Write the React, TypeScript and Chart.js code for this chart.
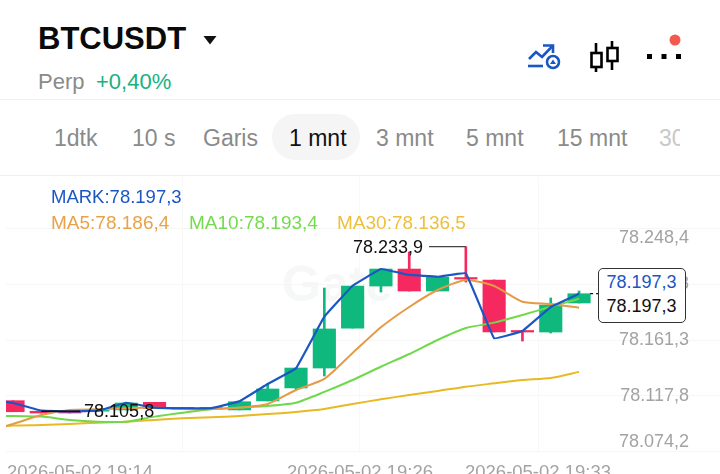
import React, { useEffect, useRef } from "react";
import { Chart, registerables } from "chart.js";

Chart.register(...registerables);

const FONT = '"Liberation Sans", Arial, sans-serif';
const UP = "#0fb97e";
const DOWN = "#f5295f";
const BLUE = "#1a56c4";

// Candles: the array index is the x value (index 0 lies off-screen to the left)
const opens = [null, 78114.1, 78105.9, 78105.9, 78105.9, 78106.9, 78112.8, 78108.8, 78107.8, 78106.9, 78113.9, 78124.0, 78139.5, 78170.6, 78203.3, 78216.5, 78199.4, 78209.9, 78208.0, 78168.7, 78167.5, 78190.1];
const highs = [null, 78114.1, 78105.9, 78105.9, 78106.5, 78112.3, 78112.8, 78108.8, 78108.8, 78113.3, 78127.1, 78139.5, 78201.7, 78203.3, 78216.5, 78229.7, 78210.3, 78233.9, 78208.0, 78168.7, 78194.0, 78199.4];
const lows = [null, 78105.5, 78104.5, 78104.5, 78105.9, 78106.9, 78108.1, 78107.5, 78107.8, 78106.9, 78113.9, 78122.4, 78133.3, 78170.6, 78198.6, 78199.4, 78199.4, 78206.4, 78167.5, 78160.5, 78166.7, 78190.1];
const closes = [null, 78105.5, 78104.5, 78104.5, 78106.5, 78112.3, 78108.1, 78107.5, 78108.8, 78113.3, 78123.2, 78139.5, 78169.9, 78203.3, 78216.5, 78199.4, 78210.3, 78208.7, 78167.5, 78167.5, 78188.5, 78197.3];

const mark = [78115.4, 78112.3, 78106.3, 78105.7, 78106.3, 78112.5, 78108.7, 78108.2, 78108.2, 78113.6, 78127.1, 78139.3, 78179.4, 78203.5, 78216.5, 78211.9, 78210.5, 78213.2, 78162.6, 78168.3, 78187.0, 78197.3];
const ma5 = [78089.8, 78096.0, 78103.0, 78106.9, 78107.4, 78108.2, 78108.8, 78107.6, 78107.6, 78108.7, 78111.5, 78122.4, 78131.0, 78151.2, 78171.2, 78187.0, 78200.2, 78208.0, 78203.3, 78191.1, 78189.3, 78186.4];
const ma10 = [78102.2, 78102.2, 78101.7, 78099.1, 78097.8, 78097.8, 78101.7, 78104.8, 78107.4, 78108.7, 78110.0, 78112.5, 78120.9, 78130.2, 78140.5, 78150.4, 78161.3, 78170.6, 78174.8, 78180.7, 78187.2, 78193.4];
const ma30 = [78092.9, 78094.7, 78095.2, 78096.0, 78097.0, 78097.8, 78099.1, 78100.4, 78101.2, 78102.2, 78103.7, 78105.3, 78107.6, 78111.5, 78115.2, 78118.5, 78121.6, 78125.0, 78127.6, 78130.2, 78131.7, 78136.5];

const yTicks = [78074.2, 78117.8, 78161.3, 78204.8, 78248.4];
const xTickSpots = [3.37, 7.0, 13.26, 19.55];
const xTickLabels = ["2026-05-02 19:14", "", "2026-05-02 19:26", "2026-05-02 19:33"];

const highLabel = "78.233,9";
const lowLabel = "78.105,8";
const lastLabel = "78.197,3";
const highValue = 78233.9;
const lowValue = 78105.8;
const lastValue = 78197.3;
const highLeaderFrom = 15.7;
const highIndex = 17;
const lowIndex = 2;
const lowLeaderTo = 3.37;
const lastLeader = [21.39, 21.67];

const tabs: [string, number, boolean][] = [
  ["1dtk", 54, false], ["10 s", 132, false], ["Garis", 203, false], ["1 mnt", 289, true],
  ["3 mnt", 376, false], ["5 mnt", 466, false], ["15 mnt", 557, false],
];
const legendTop: [string, string, number][] = [["MARK:78.197,3", BLUE, 51]];
const legendRow: [string, string, number][] = [
  ["MA5:78.186,4", "#e8a24a", 51],
  ["MA10:78.193,4", "#74db4e", 189],
  ["MA30:78.136,5", "#eebf3a", 337],
];

const fmt = (v: number) => {
  const s = v.toFixed(1);
  return s.slice(0, 2) + "." + s.slice(2).replace(".", ",");
};
const pts = (arr: (number | null)[]) => arr.map((y, x) => ({ x, y }));
const isUp = (i: number) => (closes[i] as number) >= (opens[i] as number);

const annotate = {
  id: "annotate",
  afterDatasetsDraw(chart: any) {
    const { ctx, scales } = chart;
    ctx.save();
    ctx.font = `18px ${FONT}`;
    ctx.fillStyle = "#111";
    ctx.textBaseline = "middle";
    ctx.textAlign = "right";
    ctx.fillText(highLabel, scales.x.getPixelForValue(highLeaderFrom) - 6, scales.y.getPixelForValue(highValue) + 1);
    ctx.textAlign = "left";
    ctx.fillText(lowLabel, scales.x.getPixelForValue(lowLeaderTo) + 4, scales.y.getPixelForValue(lowValue) + 1);
    ctx.restore();
  },
};

const abs = (left: number, top: number, extra: React.CSSProperties = {}): React.CSSProperties => ({
  position: "absolute", left, top, whiteSpace: "nowrap", ...extra,
});

export default function App() {
  const ref = useRef<HTMLCanvasElement>(null);
  useEffect(() => {
    const line = (data: number[], color: string, order: number, tension = 0.2, width = 2) => ({
      type: "line" as const,
      data: pts(data),
      borderColor: color,
      borderWidth: width,
      pointRadius: 0,
      tension,
      order,
    });
    const chart = new Chart(ref.current as HTMLCanvasElement, {
      data: {
        datasets: [
          {
            type: "bar" as const,
            data: opens.map((o, x) => ({ x, y: o === null ? null : [o, closes[x]] })) as any,
            backgroundColor: opens.map((_, i) => (i && isUp(i) ? UP : DOWN)),
            barThickness: 22.5,
            grouped: false,
            order: 11,
          },
          {
            type: "bar" as const,
            data: highs.map((h, x) => ({ x, y: h === null ? null : [lows[x], h] })) as any,
            backgroundColor: opens.map((_, i) => (i && isUp(i) ? UP : DOWN)),
            barThickness: 2,
            grouped: false,
            order: 12,
          },
          line(mark, BLUE, 1, 0.05, 2.2),
          line(ma30, "#e8b923", 4),
          line(ma10, "#6fd94b", 3),
          line(ma5, "#e59a45", 2),
          line([highValue, highValue] as any, "#444", 5, 0, 1.2),
          line([lowValue, lowValue] as any, "#111", 0, 0, 1.5),
          line([lastValue, lastValue] as any, "#111", 5, 0, 1.2),
        ].map((d: any, i) => {
          if (i === 6) d.data = [{ x: highLeaderFrom, y: highValue }, { x: highIndex, y: highValue }];
          if (i === 7) d.data = [{ x: lowIndex, y: lowValue }, { x: lowLeaderTo, y: lowValue }];
          if (i === 8) {
            d.data = [{ x: lastLeader[0], y: lastValue }, { x: lastLeader[1], y: lastValue }];
            d.borderDash = [3, 3];
          }
          return d;
        }),
      },
      options: {
        animation: false,
        responsive: false,
        layout: { padding: { left: 6, right: 0, top: 0, bottom: 0 } },
        plugins: { legend: { display: false }, tooltip: { enabled: false } },
        scales: {
          x: {
            type: "linear",
            offset: false,
            min: 0.7527,
            max: 25.98,
            afterBuildTicks: (s: any) => { s.ticks = xTickSpots.map((value) => ({ value })); },
            afterFit: (s: any) => { s.height = 37; s.paddingLeft = 0; s.paddingRight = 0; },
            grid: {
              offset: false,
              drawTicks: false,
              color: (c: any) => (c.index === 0 ? "rgba(0,0,0,0)" : "#f8f8f8"),
            },
            border: { display: false },
            ticks: {
              autoSkip: false,
              maxRotation: 0,
              padding: 9,
              color: "#a3a3a3",
              font: { family: FONT, size: 18.5 },
              callback: (v: any) => xTickLabels[xTickSpots.indexOf(v)] ?? "",
            },
          },
          y: {
            type: "linear",
            position: "right",
            min: 78073.4,
            max: 78288.1,
            afterBuildTicks: (s: any) => { s.ticks = yTicks.map((value) => ({ value })); },
            afterFit: (s: any) => { s.width = 0; s.paddingTop = 0; s.paddingBottom = 0; },
            grid: { drawTicks: false, color: "#f6f6f6" },
            border: { display: false },
            ticks: {
              mirror: true,
              padding: -31,
              color: "#a3a3a3",
              font: { family: FONT, size: 18, lineHeight: "20px" },
              callback: (v: any) => {
                const t = fmt(v);
                if (v === yTicks[yTicks.length - 1]) return ["", t];
                if (v === yTicks[0]) return [t, ""];
                return t;
              },
            },
          },
        },
      } as any,
      plugins: [annotate],
    });
    return () => chart.destroy();
  }, []);

  return (
    <div style={{ position: "fixed", left: 0, top: 0, width: 720, height: 474, overflow: "hidden", background: "#fff", fontFamily: FONT }}>
      <div style={abs(38, 20, { fontSize: 31, fontWeight: 700, color: "#0a0a0a", lineHeight: "38px" })}>BTCUSDT</div>
      <svg style={abs(0, 0)} width={720} height={100}>
        <polygon points="203.5,36 216.5,36 210,44.5" fill="#111" />
        <g fill="none" stroke={BLUE} strokeWidth={2.6}>
          <polyline points="529,59 536,52 542,57 553,45.5" />
          <polyline points="543,45.5 553,45.5 553,53" />
          <line x1={528} y1={66} x2={543} y2={66} />
          <circle cx={553} cy={62} r={6} fill="#fff" />
        </g>
        <polygon points="553,59.5 556,64 550,64" fill={BLUE} />
        <g fill="none" stroke="#000" strokeWidth={2.6}>
          <line x1={596} y1={43} x2={596} y2={53} />
          <rect x={591.5} y={53} width={10} height={14} />
          <line x1={596} y1={67} x2={596} y2={72} />
          <line x1={612} y1={41} x2={612} y2={48} />
          <rect x={607.5} y={48} width={10} height={13} />
          <line x1={612} y1={61} x2={612} y2={70} />
        </g>
        <rect x={647} y={54} width={5} height={5} fill="#000" />
        <rect x={661.5} y={54} width={5} height={5} fill="#000" />
        <rect x={676} y={54} width={5} height={5} fill="#000" />
        <circle cx={675} cy={40} r={5.5} fill="#f25a50" />
      </svg>
      <div style={abs(38, 70, { fontSize: 22, color: "#8a8a8a", lineHeight: "24px" })}>Perp</div>
      <div style={abs(96, 70, { fontSize: 22, color: "#18b17e", lineHeight: "24px" })}>+0,40%</div>
      <div style={abs(0, 99, { width: 720, height: 1, background: "#f0f0f0" })} />
      <div style={abs(272, 114, { width: 88, height: 46, borderRadius: 23, background: "#f5f5f5" })} />
      {tabs.map(([t, x, on]) => (
        <div key={t} style={abs(x, 125, { fontSize: 23, lineHeight: "26px", color: on ? "#111" : "#8a8a8a" })}>{t}</div>
      ))}
      <div style={abs(659, 125, { fontSize: 23, lineHeight: "26px", width: 21, overflow: "hidden", color: "#c8c8c8" })}>30</div>
      <div style={abs(0, 175, { width: 720, height: 1, background: "#f0f0f0" })} />
      <div style={abs(282, 256, { fontSize: 50, fontWeight: 700, color: "#f6f7f7", lineHeight: "56px" })}>Gate</div>
      <canvas ref={ref} width={720} height={313} style={{ position: "absolute", left: 0, top: 177, display: "block" }} />
      {legendTop.concat(legendRow).map(([t, c, x], i) => (
        <div key={t} style={abs(x, i === 0 ? 186 : 212, { fontSize: i === 0 ? 18.5 : 19, lineHeight: "22px", color: c })}>{t}</div>
      ))}
      <div style={abs(597.5, 267.5, { width: 88, height: 55, boxSizing: "border-box", border: "1.2px solid #333", borderRadius: 5, background: "#fff", textAlign: "center", fontSize: 18, lineHeight: "23.5px", paddingTop: 2.5 })}>
        <div style={{ color: BLUE }}>{lastLabel}</div>
        <div style={{ color: "#111" }}>{lastLabel}</div>
      </div>
    </div>
  );
}
